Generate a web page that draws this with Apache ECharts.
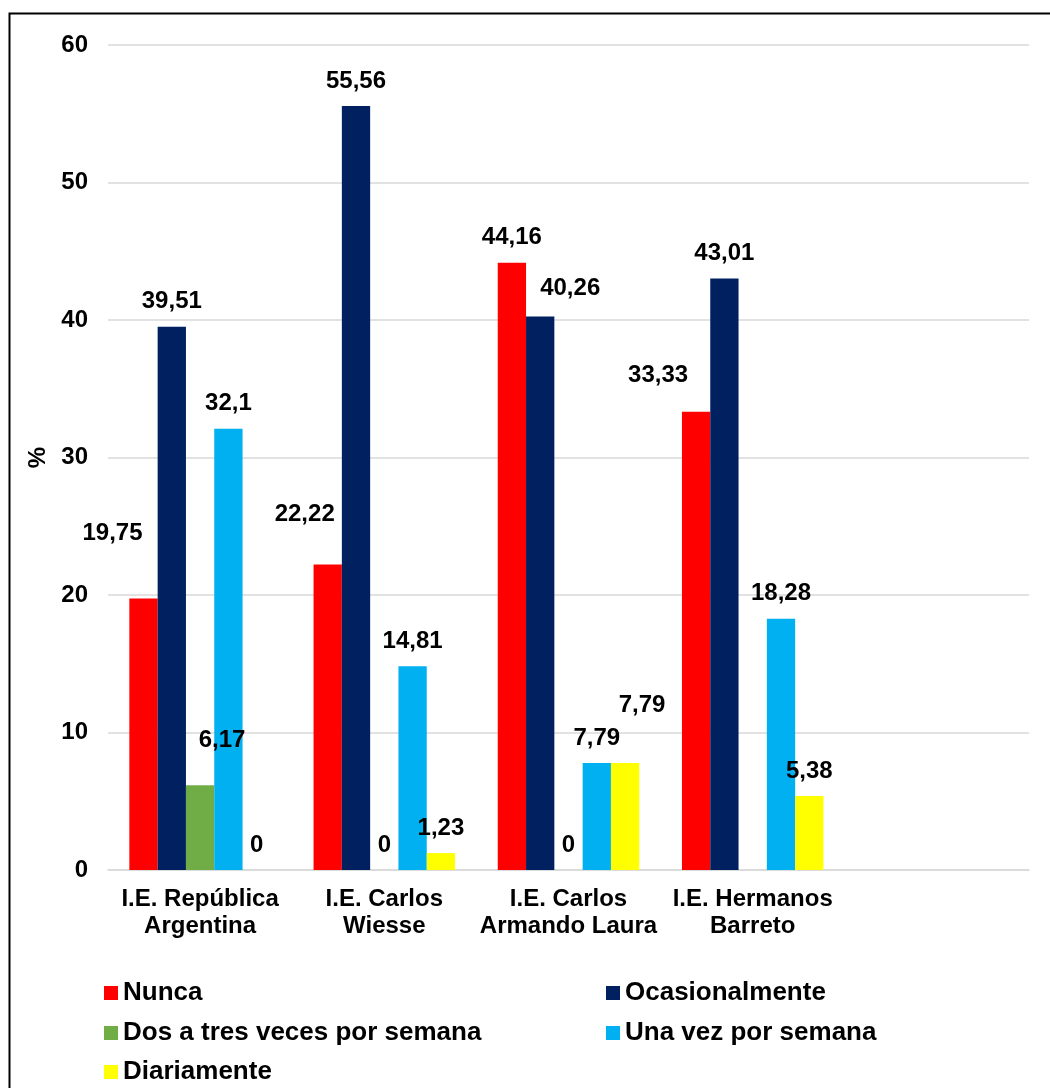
<!DOCTYPE html>
<html>
<head>
<meta charset="utf-8">
<script src="https://cdn.jsdelivr.net/npm/echarts@6/dist/echarts.min.js"></script>
<style>
html,body{margin:0;padding:0;background:#fff;}
#chart{width:1050px;height:1088px;}
</style>
</head>
<body>
<div id="chart"></div>
<script>
var categories = ['I.E. República\nArgentina', 'I.E. Carlos\nWiesse', 'I.E. Carlos\nArmando Laura', 'I.E. Hermanos\nBarreto', ''];
var seriesNames = ['Nunca', 'Ocasionalmente', 'Dos a tres veces por semana', 'Una vez por semana', 'Diariamente'];
var nunca = [19.75, 22.22, 44.16, 33.33];
var ocasionalmente = [39.51, 55.56, 40.26, 43.01];
var dosTres = [6.17, 0, 0, null];
var unaVez = [32.1, 14.81, 7.79, 18.28];
var diariamente = [0, 1.23, 7.79, 5.38];
var yTicks = [0, 10, 20, 30, 40, 50, 60];

var colors = ['#FF0000', '#002060', '#70AD47', '#00B0F0', '#FFFF00'];
// manually moved data labels (series index -> category index -> [dx, dy])
var labelShift = {
  0: {0: [-31, -40], 1: [-23, -25], 3: [-38, -11]},
  1: {2: [30, -3]},
  2: {0: [22, -20]},
  4: {2: [17, -33]}
};
// legend slots: [left, top] for each series
var legendSlots = [[99, 975], [601, 975], [99, 1015], [601, 1015], [99, 1054]];
var allValues = [nunca, ocasionalmente, dosTres, unaVez, diariamente];
var FONT = "'Liberation Sans', Arial, sans-serif";

var series = allValues.map(function (vals, si) {
  return {
    name: seriesNames[si],
    type: 'bar',
    barWidth: 28.3,
    barGap: '0%',
    itemStyle: {color: colors[si]},
    label: {
      show: true,
      position: 'top',
      distance: 13,
      color: '#000',
      fontFamily: FONT,
      fontWeight: 'bold',
      fontSize: 24,
      formatter: function (p) { return String(p.value).replace('.', ','); }
    },
    data: vals.map(function (v, ci) {
      if (v === null) return null;
      var d = {value: v};
      if (labelShift[si] && labelShift[si][ci]) d.label = {offset: labelShift[si][ci]};
      return d;
    })
  };
});

var legends = seriesNames.map(function (n, i) {
  return {
    data: [n],
    orient: 'horizontal', left: legendSlots[i][0], top: legendSlots[i][1],
    icon: 'rect', itemWidth: 14, itemHeight: 14,
    textStyle: {color: '#000', fontFamily: FONT, fontWeight: 'bold', fontSize: 26, lineHeight: 26}
  };
});

var chart = echarts.init(document.getElementById('chart'));
chart.setOption({
  animation: false,
  backgroundColor: '#fff',
  grid: {left: 108, right: 21, top: 45, bottom: 218, containLabel: false},
  graphic: [{
    type: 'rect', left: 7, top: 11, z: 100,
    shape: {width: 1100, height: 1100},
    style: {fill: 'none', stroke: '#000', lineWidth: 2}
  }],
  xAxis: {
    type: 'category',
    data: categories,
    axisLine: {show: true, lineStyle: {color: '#D9D9D9', width: 1.5}},
    axisTick: {show: false},
    axisLabel: {
      color: '#000', fontFamily: FONT, fontWeight: 'bold', fontSize: 24,
      lineHeight: 27, margin: 16, interval: 0
    }
  },
  yAxis: {
    type: 'value',
    min: 0, max: 60, interval: 10,
    name: '%',
    nameLocation: 'middle',
    nameRotate: 90,
    nameGap: 52,
    nameTextStyle: {color: '#000', fontFamily: FONT, fontWeight: 'bold', fontSize: 24},
    axisLine: {show: false},
    axisTick: {show: false},
    splitLine: {lineStyle: {color: '#D9D9D9', width: 1.5}},
    axisLabel: {
      color: '#000', fontFamily: FONT, fontWeight: 'bold', fontSize: 24, margin: 20,
      formatter: function (v) { return yTicks.indexOf(v) >= 0 ? String(v) : ''; }
    }
  },
  legend: legends,
  series: series
});
</script>
</body>
</html>
